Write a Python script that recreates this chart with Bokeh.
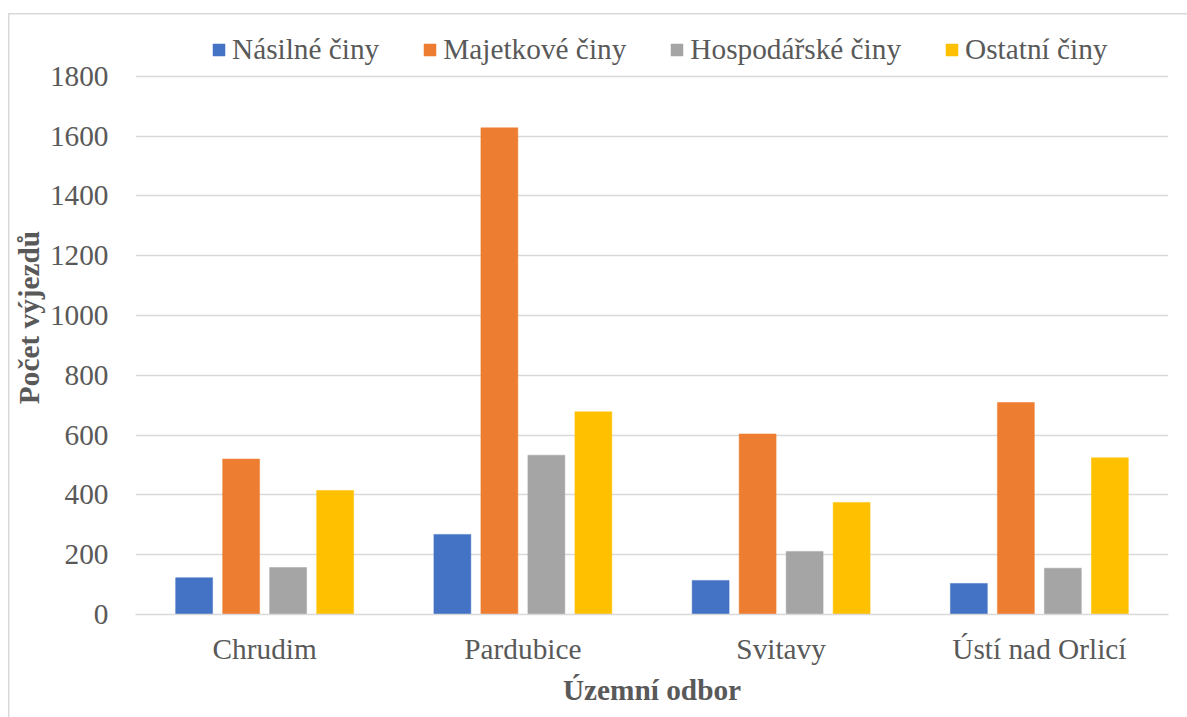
from bokeh.plotting import figure
from bokeh.models import ColumnDataSource, FactorRange, Range1d, FixedTicker, Legend, LegendItem
from bokeh.transform import dodge
from bokeh.embed import file_html
from bokeh.resources import INLINE

categories = ["Chrudim", "Pardubice", "Svitavy", "Ústí nad Orlicí"]
series_names = ["Násilné činy", "Majetkové činy", "Hospodářské činy", "Ostatní činy"]
nasilne = [123, 268, 114, 104]
majetkove = [520, 1628, 604, 709]
hospodarske = [157, 533, 211, 155]
ostatni = [415, 678, 375, 524]
colors = ["#4472C4", "#ED7D31", "#A5A5A5", "#FFC000"]
y_ticks = [0, 200, 400, 600, 800, 1000, 1200, 1400, 1600, 1800]

FONT = "Liberation Serif"
FS = "29.3px"
TXT = "#595959"

source = ColumnDataSource(dict(cat=categories, s0=nasilne, s1=majetkove, s2=hospodarske, s3=ostatni))

p = figure(x_range=FactorRange(*categories), y_range=Range1d(0, 1987),
           width=1187, height=717, output_backend="svg", toolbar_location=None,
           min_border_left=135, min_border_right=19, min_border_top=20, min_border_bottom=103)
p.x_range.range_padding = 0
p.background_fill_color = "white"
p.border_fill_alpha = 0
p.outline_line_color = None
p.styles = {
    "background-color": "white",
    "background-image": "linear-gradient(#d9d9d9, #d9d9d9), linear-gradient(#d9d9d9, #d9d9d9)",
    "background-size": "1.5px 100%, 100% 1.5px",
    "background-position": "8px 13px, 8px 13px",
    "background-repeat": "no-repeat",
}

offsets = [-0.273, -0.091, 0.091, 0.273]
items = []
for i, (name, col) in enumerate(zip(series_names, colors)):
    r = p.vbar(x=dodge("cat", offsets[i], range=p.x_range), top="s%d" % i, width=0.143,
               source=source, fill_color=col, line_color=col, line_width=0.5)
    items.append(LegendItem(label=name, renderers=[r]))

legend = Legend(items=items, orientation="horizontal", location=(76, 548),
                padding=0, margin=0, spacing=43, label_standoff=6,
                glyph_width=15, glyph_height=15, label_height=30,
                border_line_color=None, background_fill_alpha=0,
                label_text_font=FONT, label_text_font_size=FS, label_text_color=TXT)
p.add_layout(legend, "center")

p.yaxis.ticker = FixedTicker(ticks=y_ticks)
p.ygrid.ticker = FixedTicker(ticks=y_ticks)
p.ygrid.grid_line_color = "#d9d9d9"
p.ygrid.grid_line_width = 1.5
p.xgrid.grid_line_color = None

for ax in (p.xaxis[0], p.yaxis[0]):
    ax.major_tick_line_color = None
    ax.minor_tick_line_color = None
    ax.major_label_text_font = FONT
    ax.major_label_text_font_size = FS
    ax.major_label_text_color = TXT
    ax.axis_label_text_font = FONT
    ax.axis_label_text_font_size = FS
    ax.axis_label_text_font_style = "bold"
    ax.axis_label_text_color = TXT

p.yaxis.axis_line_color = None
p.yaxis.major_label_standoff = 21
p.yaxis.axis_label = "Počet výjezdů"
p.yaxis.axis_label_standoff = 2

p.xaxis.axis_line_color = "#d9d9d9"
p.xaxis.axis_line_width = 1.5
p.xaxis.major_label_standoff = 12
p.xaxis.axis_label = "Územní odbor"
p.xaxis.axis_label_standoff = 6

open("out.html", "w").write(file_html(p, INLINE))
